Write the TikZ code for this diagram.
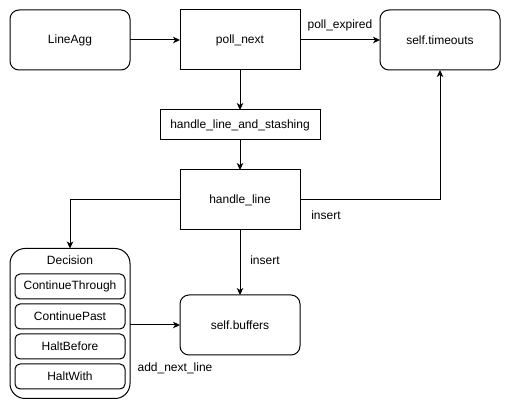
\documentclass[tikz,border=0pt]{standalone}
\usepackage{fontspec}
\setmainfont{Liberation Sans}
\usetikzlibrary{arrows.meta}
\begin{document}
\begin{tikzpicture}[x=1pt,y=-1pt,
  every node/.style={font=\fontsize{12}{14}\selectfont},
  box/.style={draw, line width=1pt, inner sep=0pt, outer sep=0pt, minimum width=120pt, minimum height=60pt},
  rbox/.style={box, rounded corners=9pt},
  sbox/.style={draw, line width=1pt, inner sep=0pt, outer sep=0pt, minimum width=110pt, minimum height=25pt, rounded corners=5pt},
  lbl/.style={inner sep=0pt},
  conn/.style={line width=1pt, -{Stealth[length=7pt,width=6.5pt,inset=2pt]}}
]
\useasboundingbox (0,0) rectangle (512,411);
\node[rbox] (lineagg) at (70,40) {LineAgg};
\node[box] (poll) at (240,40) {poll\_next};
\node[rbox] (timeouts) at (440,40) {self.timeouts};
\node[box, minimum width=160pt, minimum height=30pt] (stash) at (240,125) {handle\_line\_and\_stashing};
\node[box] (hl) at (240,200) {handle\_line};
\node[rbox] (buffers) at (240,325) {self.buffers};
\node[draw, line width=1pt, rounded corners=15pt, inner sep=0pt, outer sep=0pt, minimum width=120pt, minimum height=150pt] (decision) at (70,323.5) {};
\node[lbl] (dtitle) at (70,260) {Decision};
\node[sbox] (ct) at (70,286.5) {ContinueThrough};
\node[sbox] (cp) at (70,316.5) {ContinuePast};
\node[sbox] (hb) at (70,346.5) {HaltBefore};
\node[sbox] (hw) at (70,376.5) {HaltWith};

\draw[conn] (lineagg) -- (poll);
\draw[conn] (poll) -- (timeouts);
\draw[conn] (poll) -- (stash);
\draw[conn] (stash) -- (hl);
\draw[conn] (hl.east) -| (timeouts.south);
\draw[conn] (hl.west) -| (decision.north);
\draw[conn] (hl) -- (buffers);
\draw[conn] (decision.east |- buffers) -- (buffers.west);

\node[lbl] (lpe) at (340,25) {poll\_expired};
\node[lbl] (lins1) at (326,215) {insert};
\node[lbl] (lins2) at (265,260) {insert};
\node[lbl] (lanl) at (175,368) {add\_next\_line};
\end{tikzpicture}
\end{document}
